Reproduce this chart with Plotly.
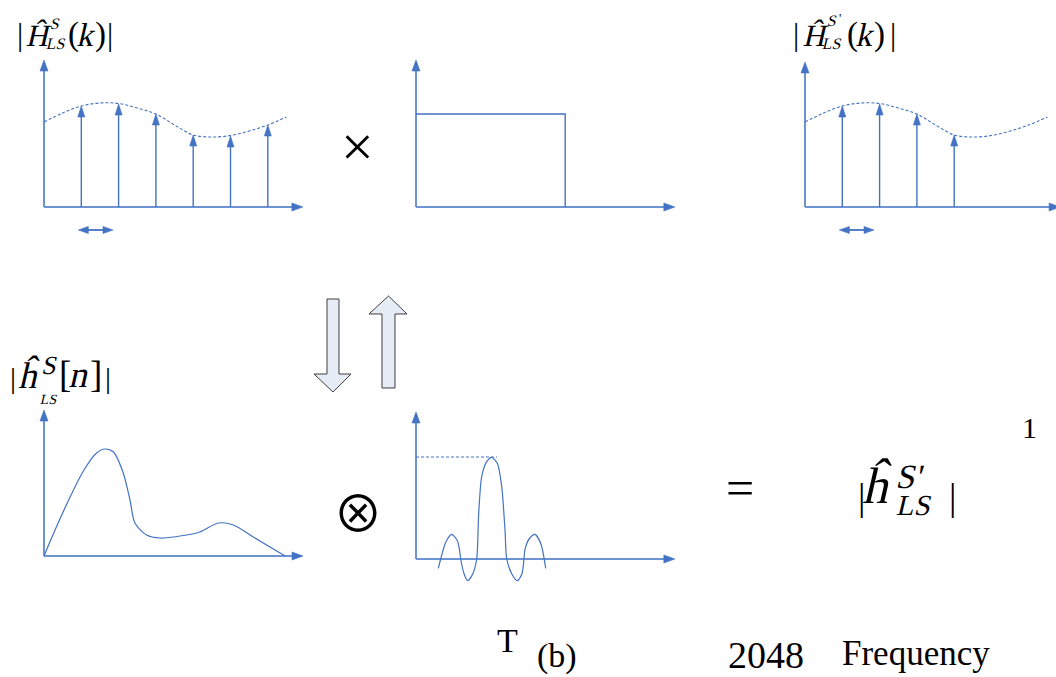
import plotly.graph_objects as go

W, H = 1056, 677

# ---------------- data ----------------
# sampled channel frequency response |H_LS(k)|
k_sub = [1, 2, 3, 4, 5, 6]
H_ls = [1.01, 1.03, 0.93, 0.72, 0.71, 0.82]
# continuous envelope (dotted)
env_k = [0, 0.5, 1, 1.5, 2, 2.5, 3, 3.5, 4, 4.5, 5, 5.5, 6, 6.5]
env_H = [0.85, 0.94, 1.01, 1.04, 1.035, 0.99, 0.93, 0.82, 0.72, 0.70, 0.715, 0.76, 0.82, 0.90]
# rectangular window
win_end = 4
win_level = 0.93
k_keep = 4
# subcarrier spacing marker
spacing = [0.92, 1.85]
# time-domain |h_LS[n]|
n_idx = [0, 0.36, 0.88, 1.52, 2.03, 2.36, 2.68, 3.06, 3.32, 3.51, 3.96, 4.48, 5.25, 6.02, 6.73, 7.31, 8.08, 9.31]
h_ls = [0, 0.22, 0.52, 0.85, 1.03, 1.07, 1.04, 0.83, 0.56, 0.33, 0.21, 0.18, 0.20, 0.24, 0.33, 0.31, 0.19, 0]
# sinc (transform of the window)
sinc_t = [0.598, 0.662, 0.80, 0.957, 1.10, 1.161, 1.198, 1.29, 1.386, 1.52, 1.627, 1.681, 1.761, 1.895, 2.029,
          2.180, 2.298, 2.386, 2.432, 2.57, 2.716, 2.84, 2.895, 2.922, 3.05, 3.190, 3.35, 3.477]
sinc_v = [-0.093, 0, 0.17, 0.247, 0.19, 0.107, 0, -0.15, -0.217, -0.15, 0, 0.457, 0.823, 0.973, 1.017,
          0.957, 0.723, 0.29, 0, -0.15, -0.217, -0.15, 0, 0.097, 0.21, 0.247, 0.15, -0.093]
sinc_peak = 1.02
sinc_ref_end = 2.17

BLUE = "#4472C4"
AXIS = "#6E93D3"
SERIF = "Liberation Serif"
ITALIC_TAG = "#010101"   # marks annotations to be slanted (synthetic italic)

# panels: origin pixel, scale px/unit, box (left, right, top, bottom) in px
PANELS = {
    "A": dict(i=2, o=(44, 207), s=(37.3, 100), box=(25, 320, 45, 245)),
    "B": dict(i=3, o=(416, 207), s=(37.3, 100), box=(400, 700, 45, 225)),
    "C": dict(i=4, o=(805, 207), s=(37.3, 100), box=(790, 1056, 45, 245)),
    "D": dict(i=5, o=(44, 556), s=(25.9, 100), box=(25, 320, 400, 570)),
    "E": dict(i=6, o=(416, 559), s=(37.3, 100), box=(400, 700, 400, 595)),
}

fig = go.Figure()
layout_axes = {}
for p in PANELS.values():
    i = p["i"]
    (ox, oy), (sx, sy), (l, r, t, b) = p["o"], p["s"], p["box"]
    layout_axes[f"xaxis{i}"] = dict(domain=[l / W, r / W], range=[(l - ox) / sx, (r - ox) / sx],
                                    visible=False, anchor=f"y{i}", fixedrange=True)
    layout_axes[f"yaxis{i}"] = dict(domain=[1 - b / H, 1 - t / H], range=[(oy - b) / sy, (oy - t) / sy],
                                    visible=False, anchor=f"x{i}", fixedrange=True)


def head(tx, ty, ux, uy, L, Wd, sx, sy):
    bx, by = tx - ux * L / sx, ty - uy * L / sy
    px, py = -uy, ux
    c1 = (bx + px * Wd / 2 / sx, by + py * Wd / 2 / sy)
    c2 = (bx - px * Wd / 2 / sx, by - py * Wd / 2 / sy)
    return [tx, c1[0], c2[0], tx, None], [ty, c1[1], c2[1], ty, None]


def add(p, x, y, **kw):
    i = p["i"]
    fig.add_trace(go.Scatter(x=x, y=y, xaxis=f"x{i}", yaxis=f"y{i}", hoverinfo="skip", **kw))


def heads(p, items, color):
    sx, sy = p["s"]
    X, Y = [], []
    for (tx, ty, ux, uy, L, Wd) in items:
        hx, hy = head(tx, ty, ux, uy, L, Wd, sx, sy)
        X += hx
        Y += hy
    add(p, X, Y, mode="lines", fill="toself", fillcolor=color, line=dict(color=color, width=0.6))


def axes(p, x_end, y_top):
    sx, sy = p["s"]
    add(p, [0, x_end - 9 / sx], [0, 0], mode="lines", line=dict(color=AXIS, width=2))
    add(p, [0, 0], [0, y_top - 9 / sy], mode="lines", line=dict(color=AXIS, width=2))
    heads(p, [(x_end, 0, 1, 0, 11, 8), (0, y_top, 0, 1, 11, 8)], BLUE)


def stems(p, ks, hs):
    sx, sy = p["s"]
    X, Y = [], []
    for k, h in zip(ks, hs):
        X += [k, k, None]
        Y += [0, h - 8 / sy, None]
    add(p, X, Y, mode="lines", line=dict(color=BLUE, width=1.4))
    heads(p, [(k, h, 0, 1, 11, 7) for k, h in zip(ks, hs)], BLUE)


def spacing_marker(p):
    sx, sy = p["s"]
    yv = -23 / sy
    add(p, [spacing[0] + 8 / sx, spacing[1] - 8 / sx], [yv, yv], mode="lines",
        line=dict(color=BLUE, width=1.8))
    heads(p, [(spacing[1], yv, 1, 0, 10, 7), (spacing[0], yv, -1, 0, 10, 7)], BLUE)


# Panel A
A = PANELS["A"]
axes(A, 6.94, 1.47)
add(A, env_k, env_H, mode="lines", line=dict(color=BLUE, width=1.1, dash="3px,2px", shape="spline"))
stems(A, k_sub, H_ls)
spacing_marker(A)

# Panel B
B = PANELS["B"]
axes(B, 6.94, 1.47)
add(B, [0, win_end, win_end], [win_level, win_level, 0], mode="lines", line=dict(color=BLUE, width=1.4))

# Panel C
C = PANELS["C"]
axes(C, 6.84, 1.45)
add(C, env_k, env_H, mode="lines", line=dict(color=BLUE, width=1.1, dash="3px,2px", shape="spline"))
stems(C, k_sub[:k_keep], H_ls[:k_keep])
spacing_marker(C)

# Panel D
D = PANELS["D"]
axes(D, 10.0, 1.46)
add(D, n_idx, h_ls, mode="lines", line=dict(color=BLUE, width=1.2, shape="spline", smoothing=0.8))

# Panel E
E = PANELS["E"]
axes(E, 6.94, 1.47)
add(E, [0, sinc_ref_end], [sinc_peak, sinc_peak], mode="lines",
    line=dict(color=BLUE, width=1.1, dash="3px,2px"))
add(E, sinc_t, sinc_v, mode="lines", line=dict(color=BLUE, width=1.2, shape="spline", smoothing=0.7))

# ---------------- text ----------------
ann = []


def txt(x, y, s, size, italic=False, xanchor="left", family=SERIF):
    ann.append(dict(x=x / W, y=1 - y / H, xref="paper", yref="paper",
                    text=s, showarrow=False,
                    xanchor=xanchor, yanchor="middle", borderpad=0,
                    font=dict(family=family, size=size, color=ITALIC_TAG if italic else "black")))


# |Ĥ^S_LS(k)|
txt(20, 35, "|", 31, xanchor="center")
txt(27, 36, "Ĥ", 31, italic=True)
txt(50, 23, "S", 16, italic=True)
txt(46, 43, "LS", 16, italic=True)
txt(67, 35, "(", 33)
txt(78, 35, "k", 33, italic=True)
txt(94, 35, ")", 33)
txt(110, 35, "|", 31, xanchor="center")

# |Ĥ^S'_LS(k)|
txt(796, 35, "|", 31, xanchor="center")
txt(804, 36, "Ĥ", 31, italic=True)
txt(827, 21, "S", 16, italic=True)
txt(838, 18, "'", 13)
txt(822, 43, "LS", 16, italic=True)
txt(846, 35, "(", 33)
txt(857, 35, "k", 33, italic=True)
txt(873, 35, ")", 33)
txt(893, 35, "|", 31, xanchor="center")

# |ĥ^S_LS[n]|
txt(13, 377, "|", 30, xanchor="center")
txt(20, 375, "ĥ", 37, italic=True)
txt(42, 366, "S", 26, italic=True)
txt(40, 399, "LS", 14, italic=True)
txt(58, 374, "[", 37)
txt(70, 374, "n", 37, italic=True)
txt(89, 374, "]", 37)
txt(108, 377, "|", 30, xanchor="center")

# = |ĥ^S'_LS|
txt(740, 488, "=", 50, xanchor="center")
txt(861, 497, "|", 37, xanchor="center")
txt(865, 486, "ĥ", 51, italic=True)
txt(897, 476, "S'", 34, italic=True)
txt(897, 505, "LS", 29, italic=True)
txt(952, 497, "|", 37, xanchor="center")

# operators
txt(357, 146, "×", 58, xanchor="center")
txt(358, 510, "⊗", 50, xanchor="center", family="Noto Sans CJK JP, DejaVu Sans")

# stray labels
txt(1029, 427, "1", 30, xanchor="center")
txt(496, 640, "T", 34)
txt(536, 656, "(b)", 34)
txt(727, 655, "2048", 38)
txt(841, 653, "Frequency", 35)

# ---------------- block arrows ----------------
shapes = []


def pth(pts):
    return "M" + " L".join(f"{x / W:.5f},{1 - y / H:.5f}" for x, y in pts) + " Z"


down_pts = [(327, 299), (339, 299), (339, 374), (351, 374), (333, 392), (314, 374), (327, 374)]
up_pts = [(382, 388), (395, 388), (395, 314), (407, 314), (388.5, 296), (369, 314), (382, 314)]
for pts in (down_pts, up_pts):
    shapes.append(dict(type="path", xref="paper", yref="paper", path=pth(pts),
                       fillcolor="#E6ECF6", line=dict(color="#3F3F3F", width=1)))

fig.update_layout(width=W, height=H, margin=dict(l=0, r=0, t=0, b=0),
                  paper_bgcolor="white", plot_bgcolor="white", showlegend=False,
                  annotations=ann, shapes=shapes, **layout_axes)

POST = """
document.body.style.margin = '0';
document.body.style.padding = '0';
var gd = document.getElementById('{plot_id}');
function slant() {
  document.querySelectorAll('text.annotation-text').forEach(function (t) {
    var f = (t.style.fill || '').replace(/\\s/g, '');
    if (f === 'rgb(1,1,1)') {
      t.style.transformBox = 'fill-box';
      t.style.transformOrigin = 'center';
      t.style.transform = 'skewX(-13deg)';
    }
  });
}
slant();
if (gd && gd.on) { gd.on('plotly_afterplot', slant); }
setTimeout(slant, 50);
"""

fig.write_html("out.html", config={"displayModeBar": False}, post_script=POST)
